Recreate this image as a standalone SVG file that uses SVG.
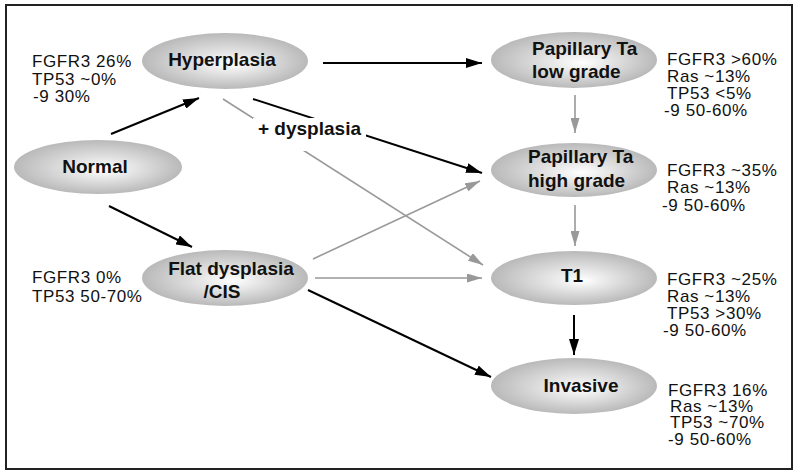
<svg xmlns="http://www.w3.org/2000/svg" width="800" height="475" viewBox="0 0 800 475">
<defs>
<radialGradient id="g" cx="50%" cy="50%" r="50%" fx="55%" fy="55%">
<stop offset="0%" stop-color="#ffffff"/>
<stop offset="100%" stop-color="#b9b9b9"/>
</radialGradient>
<marker id="ab" viewBox="0 0 16 10" refX="16" refY="5" markerWidth="16" markerHeight="10" markerUnits="userSpaceOnUse" orient="auto">
<path d="M0,0 L16,5 L0,10 z" fill="#000"/>
</marker>
<marker id="ag" viewBox="0 0 15 9" refX="15" refY="4.5" markerWidth="15" markerHeight="9" markerUnits="userSpaceOnUse" orient="auto">
<path d="M0,0 L15,4.5 L0,9 z" fill="#999"/>
</marker>
</defs>
<style>
.n{fill:url(#g);stroke:none}
.b{font-family:"Liberation Sans",Arial,sans-serif;font-weight:bold;font-size:19px;fill:#111}
.t{font-family:"Liberation Sans",Arial,sans-serif;font-size:17px;letter-spacing:0.6px;fill:#111}
.k{stroke:#000;stroke-width:2;fill:none;marker-end:url(#ab)}
.y{stroke:#999;stroke-width:1.6;fill:none;marker-end:url(#ag)}
</style>
<rect x="0" y="0" width="800" height="475" fill="#fff"/>
<rect x="6" y="5" width="786" height="464" fill="none" stroke="#222" stroke-width="2"/>

<g id="connectors">
<line class="k" x1="111" y1="134" x2="199" y2="98"/>
<line class="k" x1="109" y1="206" x2="192" y2="247"/>
<line class="k" x1="323" y1="63" x2="482" y2="63"/>
<line class="k" x1="253" y1="99" x2="482" y2="173"/>
<line class="y" x1="223" y1="99" x2="483" y2="265"/>
<line class="y" x1="313" y1="259" x2="480" y2="181"/>
<line class="y" x1="315" y1="278" x2="482" y2="278"/>
<line class="k" x1="308" y1="290" x2="491" y2="377"/>
<line class="y" x1="575" y1="95" x2="575" y2="133"/>
<line class="y" x1="575" y1="205" x2="575" y2="246"/>
<line class="k" x1="574" y1="315" x2="574" y2="355"/>
<rect x="253" y="118" width="113" height="33" fill="#fff"/>
<text class="b" x="258" y="135">+ dysplasia</text>
</g>

<g id="normal">
<ellipse class="n" cx="98" cy="167" rx="84" ry="27"/>
<text class="b" x="95" y="173" text-anchor="middle">Normal</text>
</g>

<g id="hyperplasia">
<ellipse class="n" cx="225" cy="61" rx="83" ry="28"/>
<text class="b" x="222" y="66" text-anchor="middle">Hyperplasia</text>
<text class="t" x="32" y="67">FGFR3 26%</text>
<text class="t" x="32" y="85">TP53 ~0%</text>
<text class="t" x="33" y="102"> -9 30%</text>
</g>

<g id="flat">
<ellipse class="n" cx="225" cy="278" rx="83" ry="28"/>
<text class="b" x="231" y="275" text-anchor="middle">Flat dysplasia</text>
<text class="b" x="222" y="298" text-anchor="middle">/CIS</text>
<text class="t" x="32" y="283">FGFR3 0%</text>
<text class="t" x="32" y="302">TP53 50-70%</text>
</g>

<g id="lowgrade">
<ellipse class="n" cx="574" cy="60" rx="83" ry="28"/>
<text class="b" x="532" y="55">Papillary Ta</text>
<text class="b" x="532" y="78">low grade</text>
<text class="t" x="667" y="65">FGFR3 &gt;60%</text>
<text class="t" x="667" y="82">Ras ~13%</text>
<text class="t" x="667" y="99">TP53 &lt;5%</text>
<text class="t" x="664" y="116">-9 50-60%</text>
</g>

<g id="highgrade">
<ellipse class="n" cx="574" cy="170" rx="83" ry="27"/>
<text class="b" x="528" y="163">Papillary Ta</text>
<text class="b" x="528" y="187">high grade</text>
<text class="t" x="667" y="176">FGFR3 ~35%</text>
<text class="t" x="667" y="193">Ras ~13%</text>
<text class="t" x="662" y="211">-9 50-60%</text>
</g>

<g id="t1">
<ellipse class="n" cx="574" cy="278" rx="83" ry="27"/>
<text class="b" x="572" y="282" text-anchor="middle">T1</text>
<text class="t" x="667" y="285">FGFR3 ~25%</text>
<text class="t" x="667" y="302">Ras ~13%</text>
<text class="t" x="667" y="319">TP53 &gt;30%</text>
<text class="t" x="663" y="336">-9 50-60%</text>
</g>

<g id="invasive">
<ellipse class="n" cx="574" cy="386" rx="83" ry="28"/>
<text class="b" x="581" y="392" text-anchor="middle">Invasive</text>
<text class="t" x="668" y="396">FGFR3 16%</text>
<text class="t" x="670" y="412">Ras ~13%</text>
<text class="t" x="670" y="428">TP53 ~70%</text>
<text class="t" x="668" y="445">-9 50-60%</text>
</g>
</svg>
